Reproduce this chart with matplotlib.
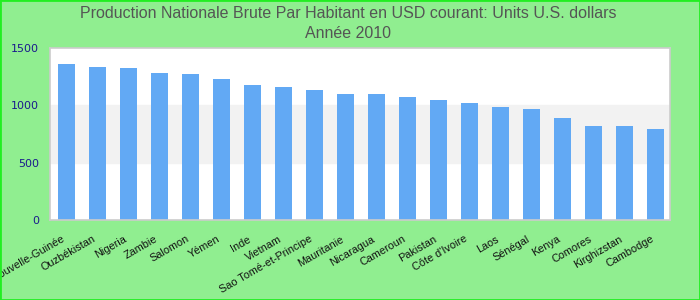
import matplotlib
matplotlib.use("Agg")
import matplotlib.pyplot as plt
from matplotlib.patches import Rectangle

countries = ["Papouasie-Nouvelle-Guinée", "Ouzbékistan", "Nigeria", "Zambie", "Salomon",
             "Yémen", "Inde", "Vietnam", "Sao Tomé-et-Principe", "Mauritanie",
             "Nicaragua", "Cameroun", "Pakistan", "Côte d'Ivoire", "Laos",
             "Sénégal", "Kenya", "Comores", "Kirghizstan", "Cambodge"]
values = [1360, 1334, 1326, 1282, 1273, 1230, 1177, 1160, 1134, 1099,
          1099, 1073, 1047, 1020, 985, 968, 890, 820, 820, 794]
yticks = [0, 500, 1000, 1500]

fig = plt.figure(figsize=(7, 3), dpi=100, facecolor="#90ee90")
fig.patches.append(Rectangle((0, 0), 1, 1, transform=fig.transFigure, fill=False,
                             edgecolor="#22ee22", linewidth=2, zorder=10))
ax = fig.add_axes([50/700, 80/300, 620/700, 172/300])
ax.set_facecolor("white")
ax.axhspan(500, 1000, color="#f2f2f2", zorder=0)
x = list(range(len(countries)))
ax.bar(x, values, width=0.55, color="#62a9f4", zorder=2)
ax.set_xlim(-0.53, 19.47)
ax.set_ylim(0, 1500)
ax.set_yticks(yticks)
ax.set_yticklabels([str(v) for v in yticks], color="#1a1a8c", fontsize=8, family="DejaVu Sans")
ax.set_xticks(x)
ax.set_xticklabels(countries, rotation=30, ha="right", fontsize=7.8, family="Liberation Sans", color="#111111")
ax.tick_params(axis="both", length=0)
ax.tick_params(axis="x", pad=10)
ax.tick_params(axis="y", pad=8)
for s in ax.spines.values():
    s.set_color("#cccccc")
    s.set_linewidth(1.2)

fig.text(0.497, 1 - 14/300, "Production Nationale Brute Par Habitant en USD courant: Units U.S. dollars",
         ha="center", va="center", fontsize=11.5, color="#555555", family="Liberation Sans")
fig.text(0.497, 1 - 33/300, "Année 2010", ha="center", va="center", fontsize=11.5,
         color="#555555", family="Liberation Sans")

fig.savefig("out.png", dpi=100, facecolor=fig.get_facecolor())
